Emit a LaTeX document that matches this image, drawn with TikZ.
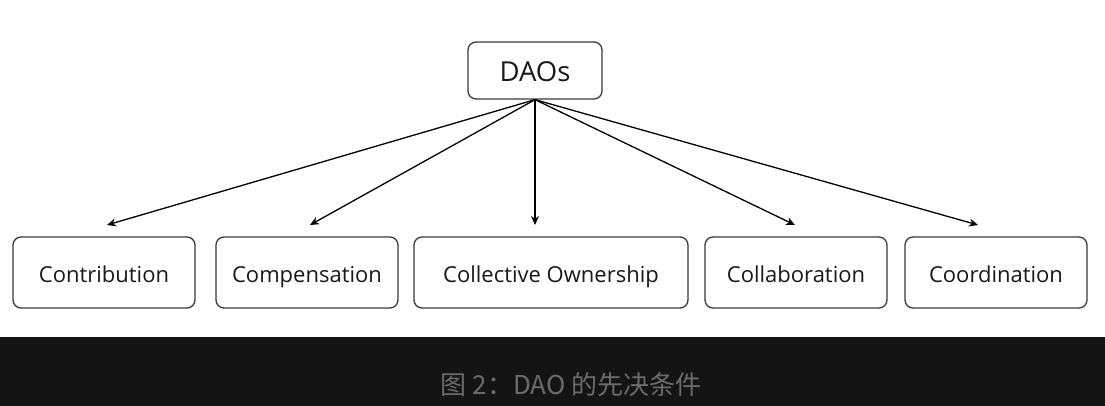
\documentclass[tikz,border=0pt]{standalone}
\usepackage{fontspec}
\setmainfont{Open Sans}
\newfontfamily\cjk{Noto Sans CJK SC}
\usetikzlibrary{arrows.meta}
\definecolor{band}{HTML}{141414}
\definecolor{captiongray}{HTML}{6B6B6B}
\definecolor{boxline}{HTML}{3A3A3A}
\tikzset{
  leaf/.style={draw=boxline, line width=1.3pt, rounded corners=8pt, fill=white,
    font=\fontsize{22}{26}\selectfont, text=black!90, inner sep=0pt,
    text height=22pt, text depth=3pt},
  conn/.style={line width=1.3pt, -{Stealth[length=9pt,width=8pt]}},
}
\begin{document}
\begin{tikzpicture}[x=1pt,y=-1pt]
\useasboundingbox (0,0) rectangle (1105,406);
\fill[white] (0,0) rectangle (1105,337);
\fill[band] (0,337) rectangle (1105,406);
\node[leaf, minimum width=134pt, minimum height=57pt, font=\fontsize{27.5}{31}\selectfont, text height=22pt, text depth=0pt] (dao) at (535,70.5) {DAOs};
\node[leaf, minimum width=182pt, minimum height=71pt] (c1) at (104,272.5) {Contribution};
\node[leaf, minimum width=182pt, minimum height=71pt] (c2) at (307,272.5) {Compensation};
\node[leaf, minimum width=274pt, minimum height=71pt] (c3) at (551,272.5) {Collective Ownership};
\node[leaf, minimum width=182pt, minimum height=71pt] (c4) at (796,272.5) {Collaboration};
\node[leaf, minimum width=182pt, minimum height=71pt] (c5) at (996,272.5) {Coordination};
\coordinate (t1) at (107,225);
\coordinate (t2) at (310,225);
\coordinate (t3) at (535,225);
\coordinate (t4) at (795,225);
\coordinate (t5) at (978,225);
\foreach \t in {t1,t2,t3,t4,t5} \draw[conn] (dao.south) -- (\t);
\node[font=\cjk\fontsize{26}{30}\selectfont, text=captiongray] (cap) at (571,385) {图 2：DAO 的先决条件};
\end{tikzpicture}
\end{document}
